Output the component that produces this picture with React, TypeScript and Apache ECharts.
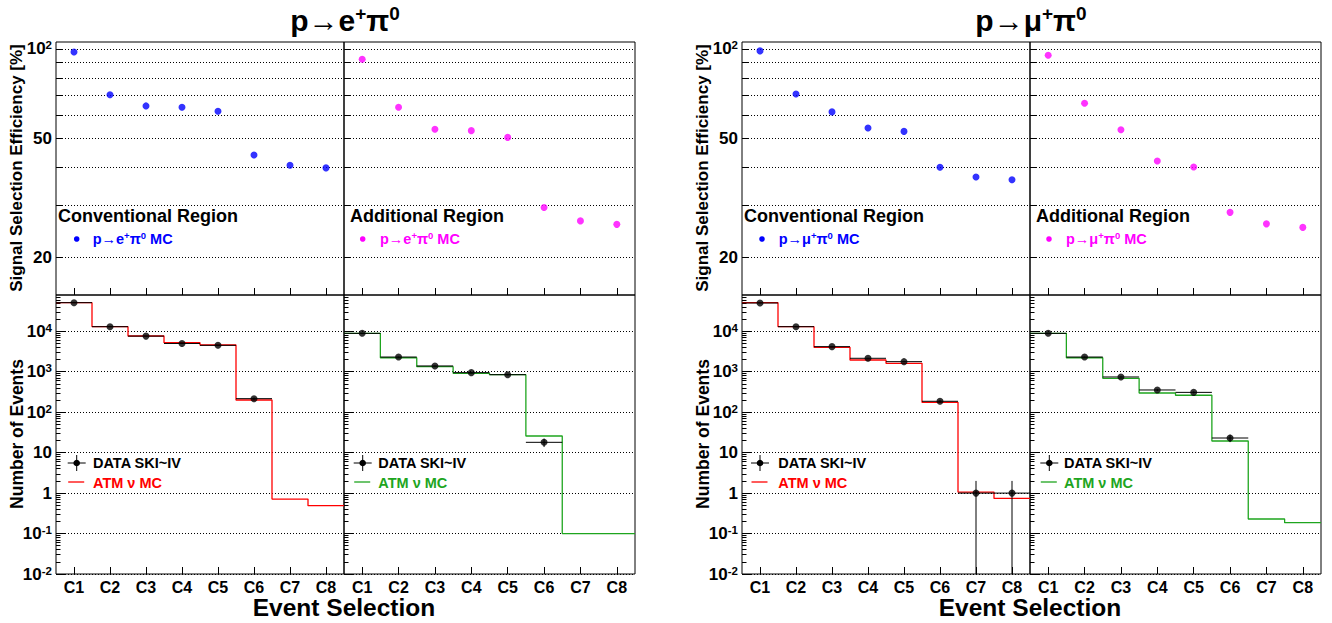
import React, { useEffect, useRef } from 'react';
import * as echarts from 'echarts';

// ---------------- data ----------------
const categories = ['C1', 'C2', 'C3', 'C4', 'C5', 'C6', 'C7', 'C8'];
const binCenters = [1, 2, 3, 4, 5, 6, 7, 8];

// Signal selection efficiency [%]
const effConvE = [97.7, 70.2, 64.4, 63.7, 61.8, 44.1, 40.7, 39.9];
const effAddE = [92.3, 63.7, 53.8, 53.2, 50.5, 29.4, 26.5, 25.8];
const effConvMu = [98.5, 70.6, 61.5, 54.3, 52.9, 40.1, 37.2, 36.4];
const effAddMu = [95.2, 65.7, 53.6, 42.1, 40.2, 28.3, 25.9, 25.2];

// Number of events: atmospheric neutrino MC and data
const mcConvE = [50900, 13000, 7650, 5240, 4580, 200, 0.71, 0.49];
const dataConvE = [51000, 13000, 7600, 5000, 4500, 216, null, null];
const mcAddE = [8900, 2220, 1335, 912, 845, 25.8, 0.1, 0.1];
const dataAddE = [8900, 2310, 1390, 950, 845, 18, null, null];
const mcConvMu = [50900, 13000, 4020, 1950, 1615, 175, 1.06, 0.74];
const dataConvMu = [50000, 13000, 4170, 2150, 1775, 186, 1, 1];
const mcAddMu = [8900, 2220, 689, 298, 262, 19.4, 0.229, 0.186];
const dataAddMu = [8900, 2310, 742, 354, 309, 23, null, null];

// tick values
const effGridValues = [20, 30, 40, 50, 60, 70, 80, 90, 100];
const effLabelValues = [20, 50, 100];
const evtDecadeValues = [0.01, 0.1, 1, 10, 100, 1000, 10000];
const evtMinorMultipliers = [2, 3, 4, 5, 6, 7, 8, 9];

const EFF_MIN = 14.95;
const EFF_MAX = 105.5;
const EVT_MIN = 0.01;
const EVT_MAX = 78900;

const FONT = "'Liberation Sans', Arial, Helvetica, sans-serif";
const BLUE = '#0000ff';
const MAGENTA = '#ff00ff';
const RED = '#ff0000';
const GREEN = '#1ea51e';

const evtMinorValues = evtDecadeValues
  .flatMap((d) => evtMinorMultipliers.map((m) => Number((m * d).toPrecision(3))))
  .filter((v) => v < EVT_MAX);

const LABEL_SIZE = 17;
const labelRich = {
  n: { fontSize: LABEL_SIZE, fontWeight: 'bold', fontFamily: FONT, color: '#000', lineHeight: LABEL_SIZE + 2 },
  sup: { fontSize: 11.5, fontWeight: 'bold', fontFamily: FONT, color: '#000', verticalAlign: 'top', lineHeight: 11 },
};

function fmtEff(v: number) {
  if (Math.abs(v - 100) < 1e-6) return '{n|10}{sup|2}';
  return '{n|' + String(Math.round(v)) + '}';
}
function fmtEvt(v: number) {
  const e = Math.round(Math.log10(v));
  if (e === 0) return '{n|1}';
  if (e === 1) return '{n|10}';
  return '{n|10}{sup|' + e + '}';
}

function buildOption() {
  const grids: any[] = [];
  const xAxes: any[] = [];
  const yAxes: any[] = [];
  const series: any[] = [];

  const panels = [
    { dx: 0, effConv: effConvE, effAdd: effAddE, mcConv: mcConvE, dataConv: dataConvE, mcAdd: mcAddE, dataAdd: dataAddE },
    { dx: 686, effConv: effConvMu, effAdd: effAddMu, mcConv: mcConvMu, dataConv: dataConvMu, mcAdd: mcAddMu, dataAdd: dataAddMu },
  ];

  panels.forEach((p) => {
    const subs = [
      { kind: 'eff', left: 56, top: 42, width: 288, height: 253, vals: p.effConv, color: BLUE, labels: true },
      { kind: 'eff', left: 344, top: 42, width: 291, height: 253, vals: p.effAdd, color: MAGENTA, labels: false },
      { kind: 'evt', left: 56, top: 295, width: 288, height: 279, mc: p.mcConv, data: p.dataConv, color: RED, labels: true },
      { kind: 'evt', left: 344, top: 295, width: 291, height: 279, mc: p.mcAdd, data: p.dataAdd, color: GREEN, labels: false },
    ];
    subs.forEach((s: any) => {
      const gi = grids.length;
      const isEff = s.kind === 'eff';
      grids.push({
        left: s.left + p.dx, top: s.top, width: s.width, height: s.height,
        show: true, borderColor: '#000', borderWidth: 1, backgroundColor: 'rgba(0,0,0,0)',
        containLabel: false, outerBoundsMode: 'none',
      });
      xAxes.push({
        type: 'value', gridIndex: gi, min: 0.5, max: 8.5, position: 'bottom',
        axisLine: { show: false, onZero: false },
        axisTick: { show: true, inside: true, length: 7, customValues: binCenters, lineStyle: { color: '#000', width: 1 } },
        axisLabel: {
          show: !isEff, customValues: binCenters, margin: 5,
          formatter: (v: number) => categories[Math.round(v) - 1],
          color: '#000', fontFamily: FONT, fontWeight: 'bold', fontSize: 16,
        },
        splitLine: { show: false },
      });
      const yMin = isEff ? EFF_MIN : EVT_MIN;
      const yMax = isEff ? EFF_MAX : EVT_MAX;
      const common = {
        type: 'log', logBase: 10, gridIndex: gi, min: yMin, max: yMax, position: 'left', offset: 0,
        axisLine: { show: false, onZero: false }, splitLine: { show: false },
        minorTick: { show: false }, minorSplitLine: { show: false },
      };
      // main axis: ticks + labels
      yAxes.push({
        ...common,
        axisTick: {
          show: true, inside: true, length: isEff ? 6 : 9,
          customValues: isEff ? effGridValues : evtDecadeValues,
          lineStyle: { color: '#000', width: 1 },
        },
        axisLabel: {
          show: s.labels, customValues: isEff ? effLabelValues : evtDecadeValues, margin: 4,
          formatter: isEff ? fmtEff : fmtEvt, rich: labelRich,
          color: '#000', fontFamily: FONT, fontWeight: 'bold', fontSize: LABEL_SIZE, lineHeight: LABEL_SIZE + 2,
        },
      });
      // grid-line axis (dotted full-width ticks)
      yAxes.push({
        ...common,
        axisTick: {
          show: true, inside: true, length: s.width,
          customValues: isEff ? effGridValues : evtDecadeValues,
          lineStyle: { color: '#000', width: 1, type: [1, 2] },
        },
        axisLabel: { show: false },
      });
      // minor tick axis
      yAxes.push({
        ...common,
        axisTick: {
          show: !isEff, inside: true, length: 4.5,
          customValues: isEff ? effGridValues : evtMinorValues,
          lineStyle: { color: '#000', width: 1 },
        },
        axisLabel: { show: false },
      });

      const yIdx = 3 * gi;
      if (isEff) {
        series.push({
          type: 'scatter', xAxisIndex: gi, yAxisIndex: yIdx, symbol: 'circle', symbolSize: 7,
          itemStyle: { color: s.color }, z: 4, silent: true,
          data: binCenters.map((x, i) => [x, s.vals[i]]),
        });
      } else {
        const stepPts = binCenters.map((x, i) => [x - 0.5, s.mc[i]]);
        stepPts.push([binCenters[binCenters.length - 1] + 0.5, s.mc[s.mc.length - 1]]);
        series.push({
          type: 'line', step: 'end', xAxisIndex: gi, yAxisIndex: yIdx, data: stepPts,
          symbol: 'none', showSymbol: false, lineStyle: { color: s.color, width: 1.3 }, z: 2, silent: true,
        });
        const pts = binCenters
          .map((x, i) => (s.data[i] == null ? null : [x, s.data[i], Math.sqrt(s.data[i])]))
          .filter((d) => d != null);
        series.push({
          type: 'custom', xAxisIndex: gi, yAxisIndex: yIdx, z: 3, silent: true,
          data: pts,
          renderItem: (params: any, api: any) => {
            const x = api.value(0);
            const y = api.value(1);
            const e = api.value(2);
            const pl = api.coord([x - 0.5, y]);
            const pr = api.coord([x + 0.5, y]);
            const pt = api.coord([x, y + e]);
            const pb = api.coord([x, Math.max(y - e, EVT_MIN)]);
            const st = { stroke: '#000', lineWidth: 1 };
            return {
              type: 'group',
              children: [
                { type: 'line', shape: { x1: pl[0], y1: pl[1], x2: pr[0], y2: pr[1] }, style: st },
                { type: 'line', shape: { x1: pt[0], y1: pt[1], x2: pb[0], y2: pb[1] }, style: st },
              ],
            };
          },
        });
        series.push({
          type: 'scatter', xAxisIndex: gi, yAxisIndex: yIdx, symbol: 'circle', symbolSize: 7,
          itemStyle: { color: '#000' }, z: 4, silent: true,
          data: pts.map((d: any) => [d[0], d[1]]),
        });
      }
    });
  });

  // ---------------- graphic texts and legends ----------------
  const graphic: any[] = [];
  const supRich = (size: number, supSize: number, color: string) => ({
    b: { fontSize: size, fontWeight: 'bold', fontFamily: FONT, fill: color, lineHeight: size + 2 },
    s: { fontSize: supSize, fontWeight: 'bold', fontFamily: FONT, fill: color, verticalAlign: 'top', lineHeight: supSize },
  });
  const textEl = (x: number, y: number, text: string, size: number, color: string, align = 'left', rotation = 0, rich?: any) => ({
    type: 'text', x, y, rotation, silent: true,
    style: {
      text, fill: color, fontSize: size, fontWeight: 'bold', fontFamily: FONT,
      textAlign: align, textVerticalAlign: 'middle', rich,
    },
  });

  const panelTexts = [
    { dx: 0, lep: 'e', cx: 345 },
    { dx: 686, lep: 'μ', cx: 1031 },
  ];
  panelTexts.forEach((pt, pi) => {
    const dx = pt.dx;
    graphic.push(textEl(pt.cx, 20, '{b|p→' + pt.lep + '}{s|+}{b|π}{s|0}', 30, '#000', 'center', 0, supRich(30, 19, '#000')));
    graphic.push(textEl(16 + dx, 168, 'Signal Selection Efficiency [%]', 17, '#000', 'center', Math.PI / 2));
    graphic.push(textEl(17 + dx, 434, 'Number of Events', 17.5, '#000', 'center', Math.PI / 2));
    graphic.push(textEl(pt.cx - 1, 607, 'Event Selection', 24.5, '#000', 'center'));

    // efficiency legends
    const effLeg = pi === 0
      ? [{ x0: 58, mx: 76.7, tx: 92.7, title: 'Conventional Region', color: BLUE }, { x0: 350, mx: 362.7, tx: 380, title: 'Additional Region', color: MAGENTA }]
      : [{ x0: 744, mx: 762, tx: 778.7, title: 'Conventional Region', color: BLUE }, { x0: 1036, mx: 1049, tx: 1066, title: 'Additional Region', color: MAGENTA }];
    effLeg.forEach((l) => {
      graphic.push(textEl(l.x0, 216, l.title, 18, '#000'));
      graphic.push({ type: 'circle', shape: { cx: l.mx, cy: 239, r: 2.8 }, style: { fill: l.color }, silent: true });
      graphic.push(textEl(l.tx, 239, '{b|p→' + pt.lep + '}{s|+}{b|π}{s|0}{b| MC}', 14, l.color, 'left', 0, supRich(14.5, 9.5, l.color)));
    });

    // event legends
    const evtLeg = pi === 0
      ? [{ mx: 76.7, tx: 93, color: RED }, { mx: 362.7, tx: 378.3, color: GREEN }]
      : [{ mx: 760, tx: 778.3, color: RED }, { mx: 1049.3, tx: 1064, color: GREEN }];
    evtLeg.forEach((l) => {
      graphic.push({ type: 'line', shape: { x1: l.mx - 9, y1: 463, x2: l.mx + 9, y2: 463 }, style: { stroke: '#000', lineWidth: 1 }, silent: true });
      graphic.push({ type: 'line', shape: { x1: l.mx, y1: 455, x2: l.mx, y2: 471 }, style: { stroke: '#000', lineWidth: 1 }, silent: true });
      graphic.push({ type: 'circle', shape: { cx: l.mx, cy: 463, r: 3.3 }, style: { fill: '#000' }, silent: true });
      graphic.push(textEl(l.tx, 463, 'DATA SKI~IV', 14.5, '#000'));
      graphic.push({ type: 'line', shape: { x1: l.mx - 8.5, y1: 482, x2: l.mx + 7.5, y2: 482 }, style: { stroke: l.color, lineWidth: 1.3 }, silent: true });
      graphic.push(textEl(l.tx, 482.5, 'ATM ν MC', 14.5, l.color));
    });
  });

  return {
    animation: false,
    backgroundColor: '#ffffff',
    textStyle: { fontFamily: FONT },
    grid: grids,
    xAxis: xAxes,
    yAxis: yAxes,
    series,
    graphic,
  };
}

export default function App() {
  const ref = useRef<HTMLDivElement>(null);
  useEffect(() => {
    document.body.style.margin = '0';
    if (!ref.current) return;
    const chart = echarts.init(ref.current, undefined, { renderer: 'svg' });
    chart.setOption(buildOption() as any);
    return () => {
      chart.dispose();
    };
  }, []);
  return <div ref={ref} style={{ width: 1332, height: 623 }} />;
}
